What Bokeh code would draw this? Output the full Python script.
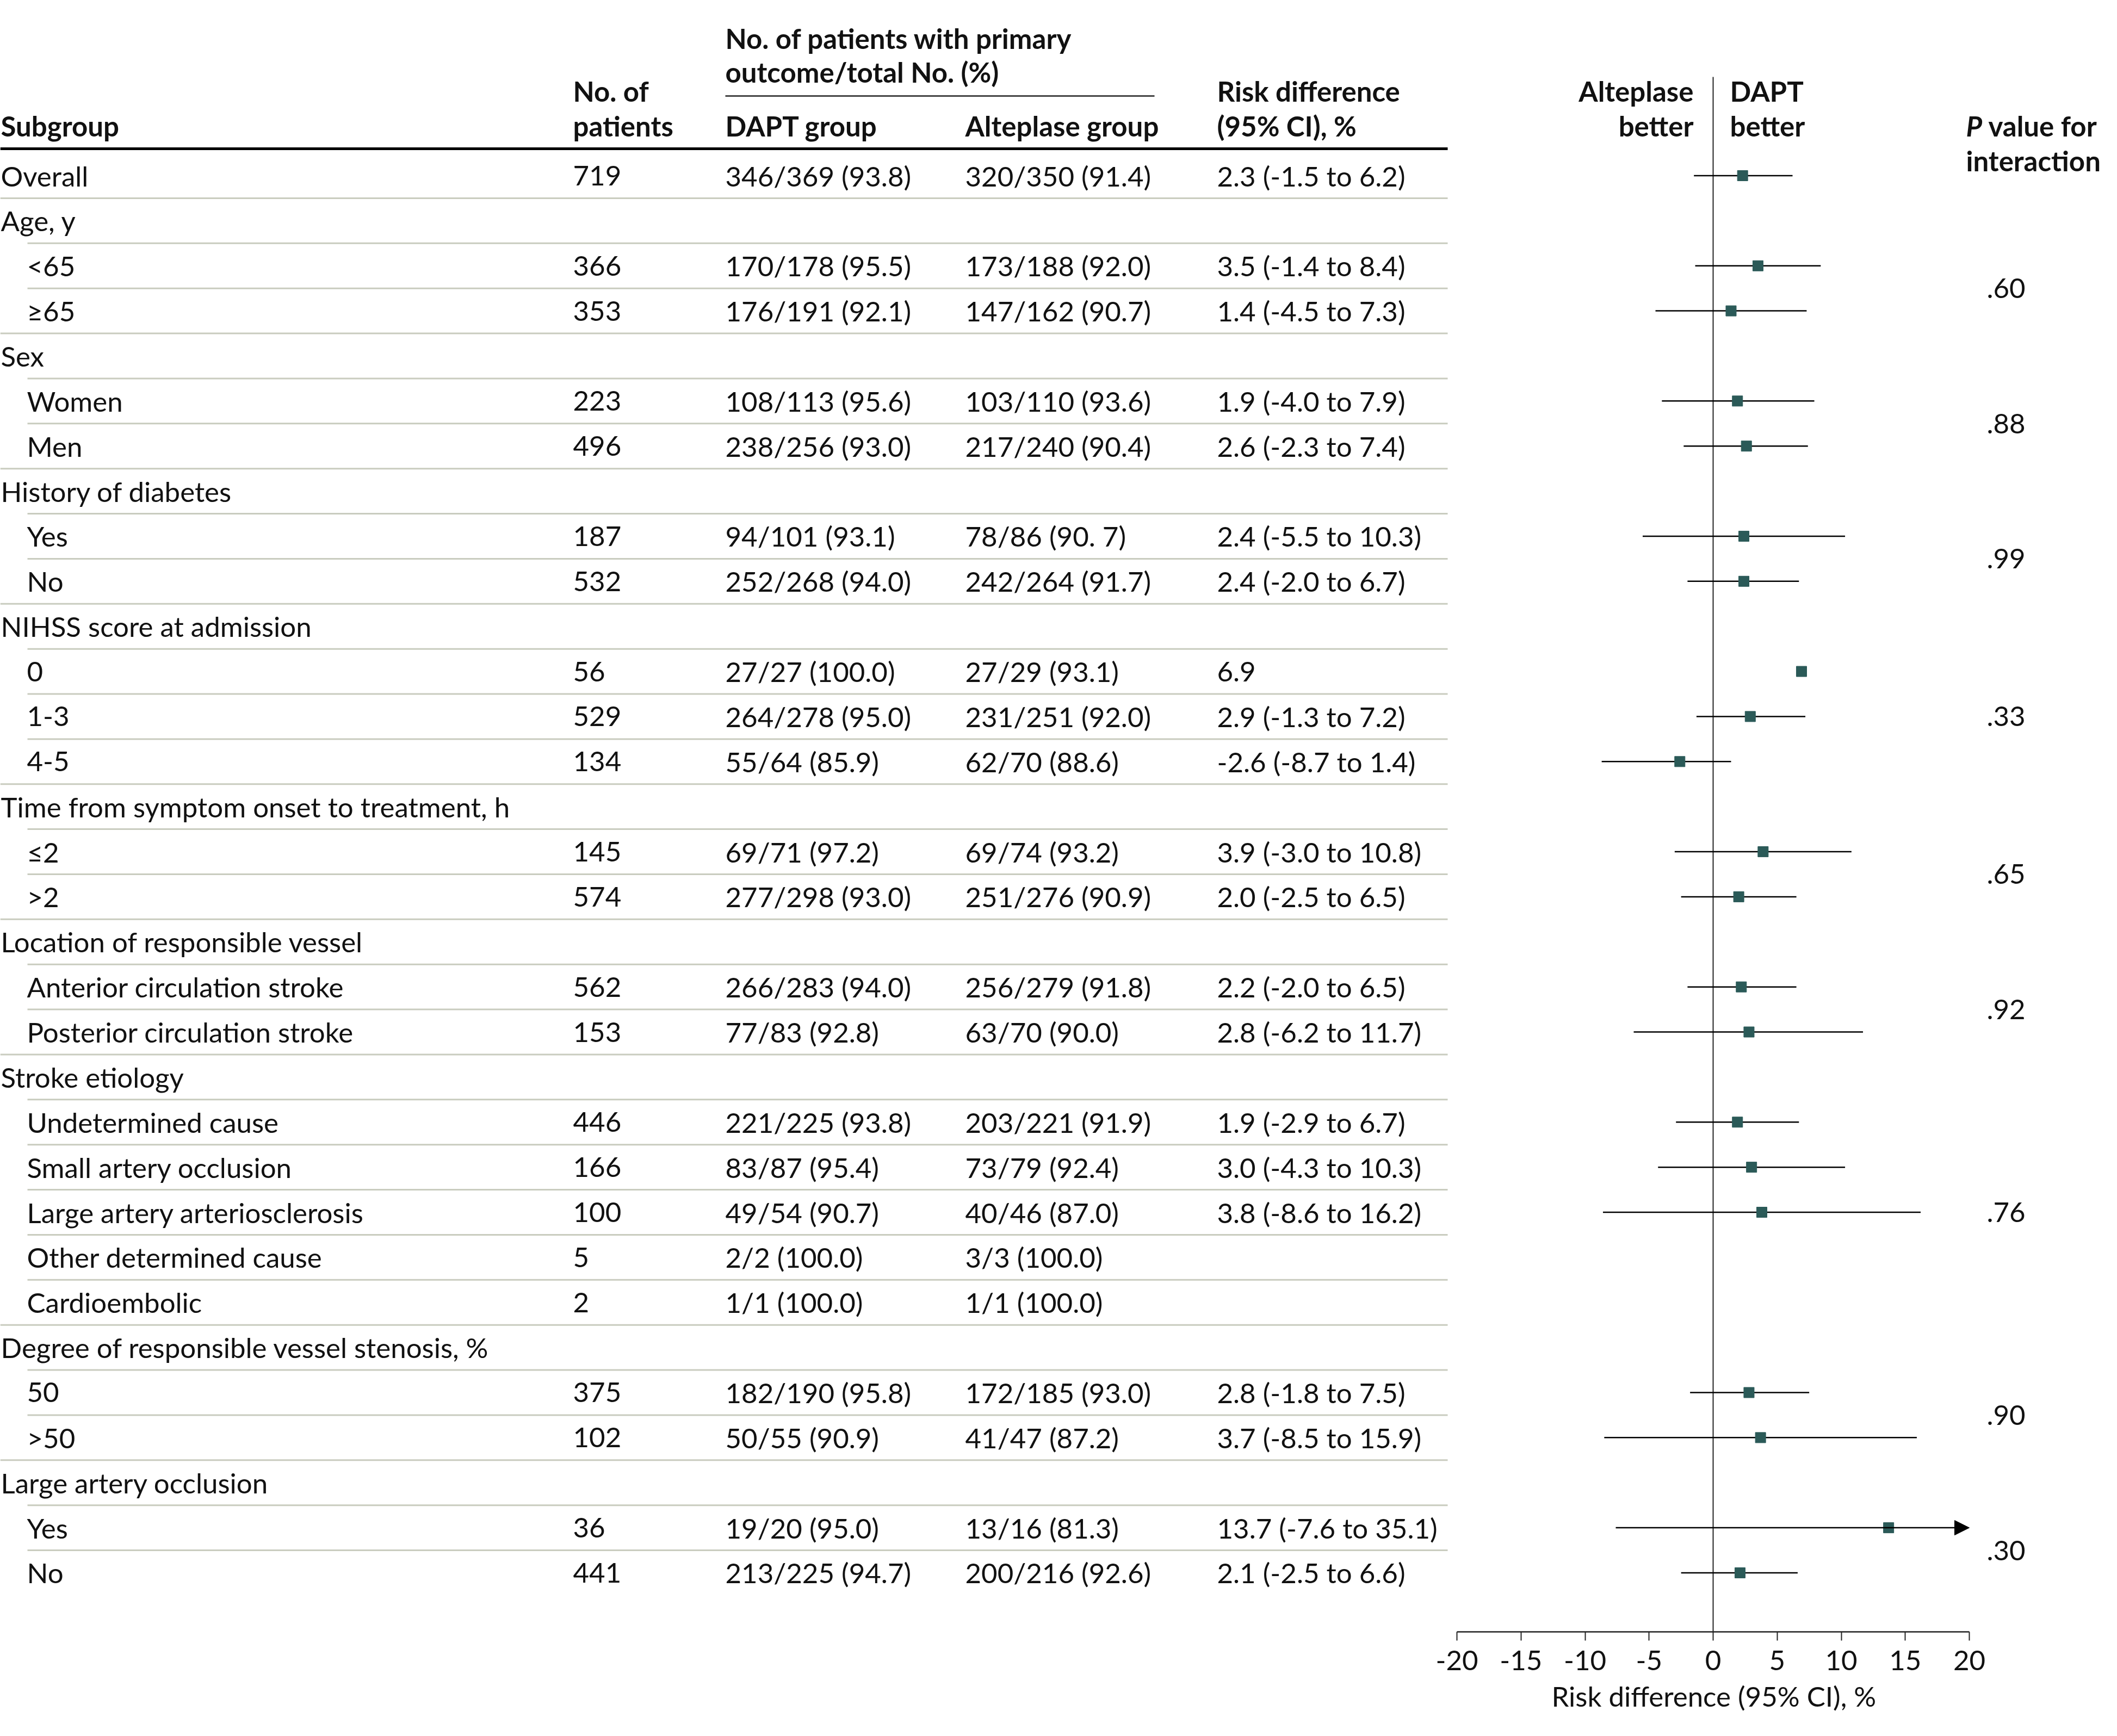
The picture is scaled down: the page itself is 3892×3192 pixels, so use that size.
from bokeh.plotting import figure
from bokeh.models import ColumnDataSource, Range1d, LinearAxis, FixedTicker, Arrow, NormalHead, Title
from bokeh.core.properties import value
from bokeh.embed import file_html
from bokeh.resources import INLINE

# ---------------- data ----------------
subgroups = ["Overall", "Age, y", "<65", "≥65", "Sex", "Women", "Men",
             "History of diabetes", "Yes", "No", "NIHSS score at admission", "0", "1-3", "4-5",
             "Time from symptom onset to treatment, h", "≤2", ">2",
             "Location of responsible vessel", "Anterior circulation stroke", "Posterior circulation stroke",
             "Stroke etiology", "Undetermined cause", "Small artery occlusion", "Large artery arteriosclerosis",
             "Other determined cause", "Cardioembolic",
             "Degree of responsible vessel stenosis, %", "50", ">50",
             "Large artery occlusion", "Yes", "No"]
levels = [0, 0, 1, 1, 0, 1, 1, 0, 1, 1, 0, 1, 1, 1, 0, 1, 1, 0, 1, 1, 0, 1, 1, 1, 1, 1, 0, 1, 1, 0, 1, 1]
n_patients = ["719", "", "366", "353", "", "223", "496", "", "187", "532", "", "56", "529", "134", "",
              "145", "574", "", "562", "153", "", "446", "166", "100", "5", "2", "", "375", "102", "", "36", "441"]
dapt_group = ["346/369 (93.8)", "", "170/178 (95.5)", "176/191 (92.1)", "", "108/113 (95.6)", "238/256 (93.0)", "",
              "94/101 (93.1)", "252/268 (94.0)", "", "27/27 (100.0)", "264/278 (95.0)", "55/64 (85.9)", "",
              "69/71 (97.2)", "277/298 (93.0)", "", "266/283 (94.0)", "77/83 (92.8)", "",
              "221/225 (93.8)", "83/87 (95.4)", "49/54 (90.7)", "2/2 (100.0)", "1/1 (100.0)", "",
              "182/190 (95.8)", "50/55 (90.9)", "", "19/20 (95.0)", "213/225 (94.7)"]
alteplase_group = ["320/350 (91.4)", "", "173/188 (92.0)", "147/162 (90.7)", "", "103/110 (93.6)", "217/240 (90.4)", "",
                   "78/86 (90. 7)", "242/264 (91.7)", "", "27/29 (93.1)", "231/251 (92.0)", "62/70 (88.6)", "",
                   "69/74 (93.2)", "251/276 (90.9)", "", "256/279 (91.8)", "63/70 (90.0)", "",
                   "203/221 (91.9)", "73/79 (92.4)", "40/46 (87.0)", "3/3 (100.0)", "1/1 (100.0)", "",
                   "172/185 (93.0)", "41/47 (87.2)", "", "13/16 (81.3)", "200/216 (92.6)"]
N = None
risk_diff = [2.3, N, 3.5, 1.4, N, 1.9, 2.6, N, 2.4, 2.4, N, 6.9, 2.9, -2.6, N, 3.9, 2.0, N, 2.2, 2.8, N,
             1.9, 3.0, 3.8, N, N, N, 2.8, 3.7, N, 13.7, 2.1]
ci_low = [-1.5, N, -1.4, -4.5, N, -4.0, -2.3, N, -5.5, -2.0, N, N, -1.3, -8.7, N, -3.0, -2.5, N, -2.0, -6.2, N,
          -2.9, -4.3, -8.6, N, N, N, -1.8, -8.5, N, -7.6, -2.5]
ci_high = [6.2, N, 8.4, 7.3, N, 7.9, 7.4, N, 10.3, 6.7, N, N, 7.2, 1.4, N, 10.8, 6.5, N, 6.5, 11.7, N,
           6.7, 10.3, 16.2, N, N, N, 7.5, 15.9, N, 35.1, 6.6]
p_interaction = [".60", ".88", ".99", ".33", ".65", ".92", ".76", ".90", ".30"]
axis_ticks = [-20, -15, -10, -5, 0, 5, 10, 15, 20]
axis_title = "Risk difference (95% CI), %"

# ---------------- layout constants ----------------
W, H = 3876, 3176
FRAME_BOTTOM = 3000
ROW0, ROWH = 322.5, 82.87          # pixel centre of first row, row pitch


def ry(px):
    return (px - ROW0) / ROWH


FONT_NAME = "Lato"
FONT = value(FONT_NAME)
FS = "51px"
TDY = 0
INK = "#111111"
MARK = "#2b5a58"
SEP = "#c9ccbf"

X_SUB0, X_SUB1 = 1, 49
SEP_INDENT = 50
X_N, X_DAPT, X_ALT, X_RD = 1053, 1333, 1774, 2237
TABLE_END = 2661
X_P = 3652
AX_MIN, AX_MAX = axis_ticks[0], axis_ticks[-1]
PX_LO, PX_HI = 2678, 3620
scale = (PX_HI - PX_LO) / (AX_MAX - AX_MIN)
rd_start = AX_MIN - PX_LO / scale
rd_end = AX_MAX + (W - PX_HI) / scale

p = figure(width=W, height=H, output_backend="svg", toolbar_location=None,
           x_range=Range1d(0, W), y_range=Range1d(ry(FRAME_BOTTOM), ry(0)),
           x_axis_location=None, y_axis_location=None,
           min_border_left=0, min_border_right=0, min_border_top=0, min_border_bottom=H - FRAME_BOTTOM,
           outline_line_color=None, background_fill_color="white", border_fill_color="white")
p.extra_x_ranges = {"rd": Range1d(rd_start, rd_end)}
for g in p.grid:
    g.visible = False

nrows = len(subgroups)
rows = list(range(nrows))

# ---------------- separators ----------------
sep_x0, sep_y = [], []
for i in range(nrows - 1):
    sep_x0.append(SEP_INDENT if levels[i + 1] == 1 else 0)
    sep_y.append(i + 0.5)
p.segment(x0=sep_x0, x1=[TABLE_END] * len(sep_y), y0=sep_y, y1=sep_y, line_color=SEP, line_width=3)

# header rules
p.segment(x0=[0], x1=[TABLE_END], y0=[ry(273)], y1=[ry(273)], line_color="black", line_width=5)
p.segment(x0=[1333], x1=[2122], y0=[ry(176)], y1=[ry(176)], line_color="#222222", line_width=2.5)

# ---------------- table text ----------------
rd_text = []
for v, lo, hi in zip(risk_diff, ci_low, ci_high):
    if v is None:
        rd_text.append("")
    elif lo is None:
        rd_text.append(f"{v:.1f}")
    else:
        rd_text.append(f"{v:.1f} ({lo:.1f} to {hi:.1f})")

src = ColumnDataSource(dict(
    y=rows,
    xs=[X_SUB1 if l == 1 else X_SUB0 for l in levels],
    sub=subgroups, n=n_patients, dapt=dapt_group, alt=alteplase_group, rdt=rd_text))

common = dict(text_font=FONT, text_font_size=FS, text_color=INK, text_baseline="alphabetic", y_offset=TDY)
p.text(x="xs", y="y", text="sub", source=src, **common)
for xpos, col in [(X_N, "n"), (X_DAPT, "dapt"), (X_ALT, "alt"), (X_RD, "rdt")]:
    p.text(x=xpos, y="y", text=col, source=src, **common)

# P values centred on each group's child rows
p_y = []
i = 0
while i < nrows:
    if levels[i] == 0 and i + 1 < nrows and levels[i + 1] == 1:
        j = i + 1
        kids = []
        while j < nrows and levels[j] == 1:
            kids.append(j)
            j += 1
        p_y.append(sum(kids) / len(kids))
        i = j
    else:
        i += 1
p.text(x=[X_P] * len(p_interaction), y=p_y, text=p_interaction, **common)

# headers
hdr = dict(text_font=FONT, text_font_size=FS, text_color=INK, text_baseline="alphabetic",
           y_offset=TDY, text_font_style="bold")
headers = [
    (X_SUB0, 231, "Subgroup", "left"),
    (X_N, 167, "No. of", "left"),
    (X_N, 231, "patients", "left"),
    (X_DAPT, 70, "No. of patients with primary", "left"),
    (X_DAPT, 132, "outcome/total No. (%)", "left"),
    (X_DAPT, 231, "DAPT group", "left"),
    (X_ALT, 231, "Alteplase group", "left"),
    (X_RD, 167, "Risk difference", "left"),
    (X_RD, 231, "(95% CI), %", "left"),
    (3113, 167, "Alteplase", "right"),
    (3113, 231, "better", "right"),
    (3180, 167, "DAPT", "left"),
    (3180, 231, "better", "left"),
    (3655, 231, "value for", "left"),
    (3614, 295, "interaction", "left"),
]
for hx, hy, t, al in headers:
    p.text(x=[hx], y=[ry(hy)], text=[t], text_align=al, **hdr)
p.text(x=[3614], y=[ry(231)], text=["P"], text_font=FONT, text_font_size=FS, text_color=INK,
       text_baseline="alphabetic", y_offset=TDY, text_font_style="bold italic")

# ---------------- forest plot ----------------
p.segment(x0=[0], x1=[0], y0=[ry(141)], y1=[ry(FRAME_BOTTOM)], x_range_name="rd",
          line_color="#222222", line_width=2)

ci_rows = [r for r in rows if ci_low[r] is not None and ci_high[r] <= AX_MAX]
p.segment(x0=[ci_low[r] for r in ci_rows], x1=[ci_high[r] for r in ci_rows],
          y0=ci_rows, y1=ci_rows, x_range_name="rd", line_color="black", line_width=2.5)

arrow_rows = [r for r in rows if ci_high[r] is not None and ci_high[r] > AX_MAX]
arrow_src = ColumnDataSource(dict(x0=[ci_low[r] for r in arrow_rows], x1=[AX_MAX] * len(arrow_rows),
                                  y=arrow_rows))
p.add_layout(Arrow(end=NormalHead(size=27, fill_color="black", line_color="black", line_width=1),
                   x_start="x0", y_start="y", x_end="x1", y_end="y", source=arrow_src,
                   x_range_name="rd", line_color="black", line_width=2.5))

pt_rows = [r for r in rows if risk_diff[r] is not None]
p.scatter(x=[risk_diff[r] for r in pt_rows], y=pt_rows, x_range_name="rd", marker="square",
          size=19, fill_color=MARK, line_color=MARK, line_width=1)

axis = LinearAxis(x_range_name="rd", bounds=(AX_MIN, AX_MAX), ticker=FixedTicker(ticks=axis_ticks),
                  major_label_overrides={t: str(t) for t in axis_ticks},
                  axis_line_color="#222222", axis_line_width=2.5,
                  major_tick_line_color="#222222", major_tick_line_width=2,
                  major_tick_in=0, major_tick_out=16, minor_tick_in=0, minor_tick_out=0,
                  major_label_text_font=FONT_NAME, major_label_text_font_size=FS, major_label_text_color=INK,
                  major_label_standoff=18)
p.add_layout(axis, "below")

# axis title centred under the -20..20 axis
p.add_layout(Title(text=axis_title, align="left", offset=2852, standoff=24,
                   text_font=FONT_NAME, text_font_size=FS, text_font_style="normal", text_color=INK),
             "below")

open("out.html", "w").write(file_html(p, INLINE))
